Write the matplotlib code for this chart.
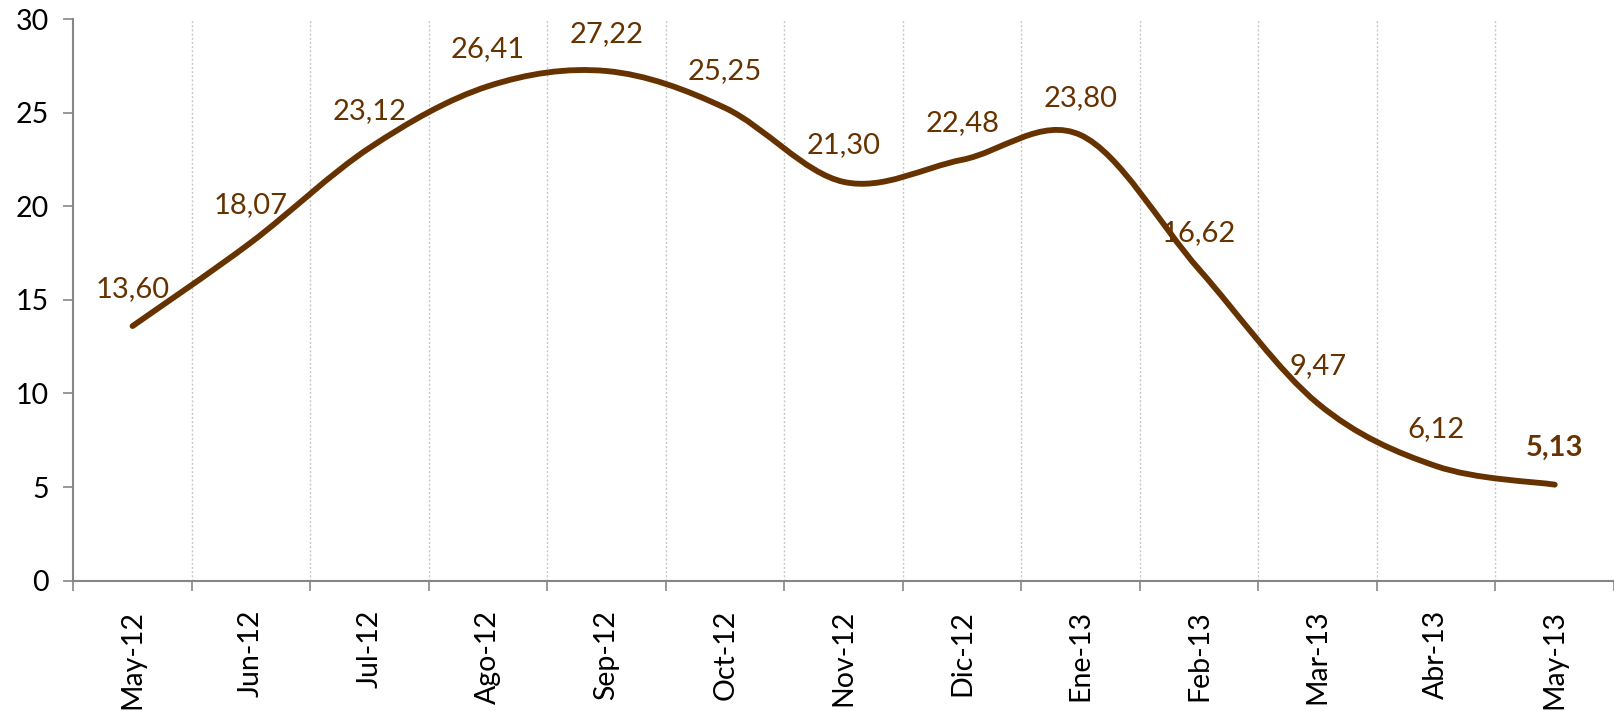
import matplotlib
matplotlib.use("Agg")
import matplotlib.pyplot as plt
from matplotlib.path import Path
from matplotlib.patches import PathPatch
import numpy as np

plt.rcParams['font.family'] = ['Lato', 'DejaVu Sans']

meses = ['May-12', 'Jun-12', 'Jul-12', 'Ago-12', 'Sep-12', 'Oct-12', 'Nov-12',
         'Dic-12', 'Ene-13', 'Feb-13', 'Mar-13', 'Abr-13', 'May-13']
valores = [13.60, 18.07, 23.12, 26.41, 27.22, 25.25, 21.30,
           22.48, 23.80, 16.62, 9.47, 6.12, 5.13]
etiquetas = ['13,60', '18,07', '23,12', '26,41', '27,22', '25,25', '21,30',
             '22,48', '23,80', '16,62', '9,47', '6,12', '5,13']

brown = '#663300'

fig = plt.figure(figsize=(16.14, 7.11), dpi=100)
ax = fig.add_axes([73.3 / 1614, 130.3 / 711, 1 - 73.3 / 1614, 561.7 / 711])

x = np.arange(len(valores))
y = np.array(valores)

# smooth line like Excel (Catmull-Rom as cubic Bezier)
pts = np.column_stack([x, y])
verts = [pts[0]]
codes = [Path.MOVETO]
n = len(pts)
for i in range(n - 1):
    p0 = pts[max(i - 1, 0)]
    p1 = pts[i]
    p2 = pts[i + 1]
    p3 = pts[min(i + 2, n - 1)]
    c1 = p1 + (p2 - p0) / 6
    c2 = p2 - (p3 - p1) / 6
    verts += [c1, c2, p2]
    codes += [Path.CURVE4] * 3
ax.add_patch(PathPatch(Path(verts, codes), facecolor='none', edgecolor=brown,
                       lw=4.2, capstyle='round', joinstyle='round', zorder=3))

for i, (v, t) in enumerate(zip(valores, etiquetas)):
    ax.annotate(t, (i, v), xytext=(0, 26.6), textcoords='offset points',
                ha='center', va='center', color=brown, fontsize=21,
                fontweight='bold' if i == len(valores) - 1 else 'normal')

ax.set_xlim(-0.5, len(valores) - 0.5)
ax.set_ylim(0, 30)
ax.set_yticks(range(0, 31, 5))

ax.set_xticks(np.arange(-0.5, len(valores), 1.0))
ax.set_xticklabels([])
ax.set_xticks(x, minor=True)
ax.set_xticklabels(meses, minor=True, rotation=90, ha='center', va='top')
ax.tick_params(axis='x', which='minor', length=0, pad=21, labelsize=20.5)
ax.tick_params(axis='x', which='major', length=7.5, width=1.2, color='#868686')
ax.tick_params(axis='y', length=7.5, width=1.2, color='#868686', pad=10, labelsize=20.5)

for i in np.arange(0.5, len(valores) - 0.5, 1.0):
    ax.axvline(i, color='#c8c8c8', lw=1, ls=(0, (1.5, 1.5)), zorder=1)

for s in ['top', 'right']:
    ax.spines[s].set_visible(False)
for s in ['left', 'bottom']:
    ax.spines[s].set_color('#868686')
    ax.spines[s].set_linewidth(1.5)

fig.savefig('out.png', dpi=100)
